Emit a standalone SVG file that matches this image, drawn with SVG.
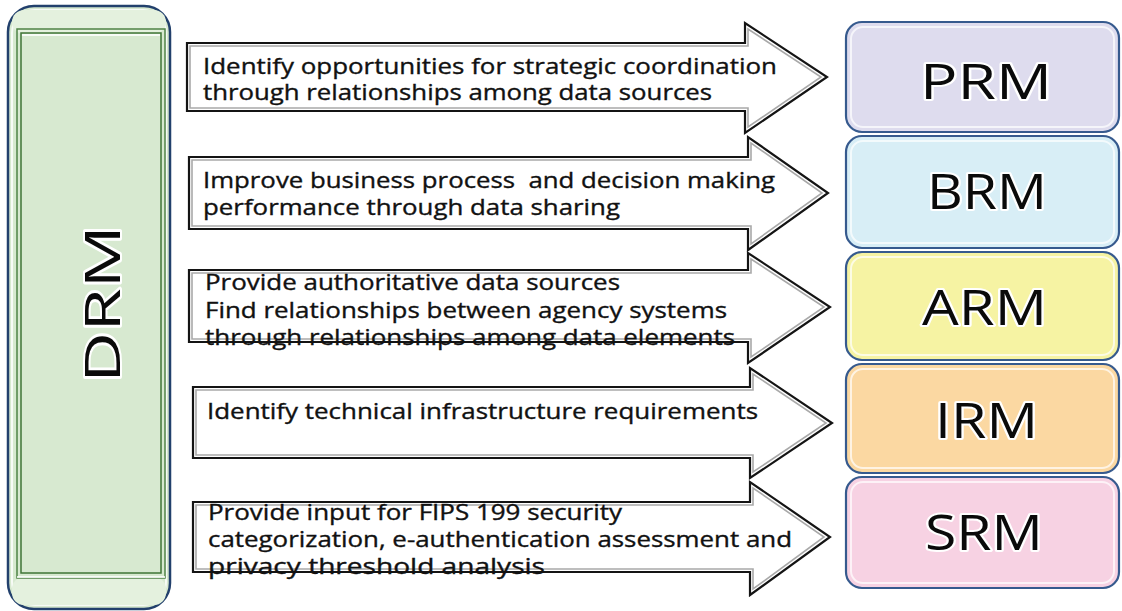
<svg xmlns="http://www.w3.org/2000/svg" width="1122" height="611" viewBox="0 0 1122 611">
<style>
  .arrow { fill: #ffffff; stroke: #141414; stroke-width: 2.2; stroke-linejoin: miter; }
  .arrow-in { fill: none; stroke: #a9a9a9; stroke-width: 1.6; }
  .t { font-family: "Open Sans", "Noto Sans", sans-serif; font-size: 21px; fill: #111111; stroke: #111111; stroke-width: 0.35; }
  .big { font-family: "Open Sans", "Noto Sans", sans-serif; font-size: 49px; fill: #0a0a0a; stroke: #ffffff; stroke-width: 4; paint-order: stroke; stroke-linejoin: round; }
  .box { stroke: #365a8e; stroke-width: 2.2; }
  .bevel { fill: none; stroke: #ffffff; stroke-opacity: 0.7; stroke-width: 2; }
</style>
<rect width="1122" height="611" fill="#ffffff"/>

<g id="node-drm">
  <rect x="8" y="6" width="162" height="603" rx="26" fill="#d7e9d0" stroke="#22406c" stroke-width="2.5"/>
  <rect x="12" y="10" width="154" height="595" rx="23" fill="none" stroke="#ffffff" stroke-opacity="0.8" stroke-width="2"/>
  <rect x="12" y="10" width="154" height="24" rx="12" fill="#e4f1de" stroke="none"/>
  <rect x="12" y="577" width="154" height="28" rx="12" fill="#e4f1de" stroke="none"/>
  <rect x="17" y="29" width="148" height="549" fill="none" stroke="#4f8346" stroke-width="1.5"/>
  <rect x="21" y="33" width="140" height="540" fill="#d7e9d0" stroke="#3f7436" stroke-width="1.5"/>
  <line x1="22" y1="35" x2="160" y2="35" stroke="#ffffff" stroke-width="2" stroke-opacity="0.8"/>
  <line x1="17" y1="577" x2="165" y2="577" stroke="#ffffff" stroke-width="2" stroke-opacity="0.8"/>
  <text class="big" transform="translate(120,383) rotate(-90)" font-size="98" textLength="158" lengthAdjust="spacingAndGlyphs" stroke-width="5">DRM</text>
</g>

<g id="connectors">
  <g id="arrow-prm">
    <polygon class="arrow" points="187,43 745,43 745,23 827,77 745,133 745,111 187,111"/>
    <polygon class="arrow-in" points="190,46 748,46 748,29 821,77 748,127 748,108 190,108"/>
    <text class="t" x="203" y="74" font-size="20" textLength="574" lengthAdjust="spacingAndGlyphs">Identify opportunities for strategic coordination</text>
    <text class="t" x="203" y="100" font-size="20" textLength="509" lengthAdjust="spacingAndGlyphs">through relationships among data sources</text>
  </g>
  <g id="arrow-brm">
    <polygon class="arrow" points="189,157 748,157 748,137 828,193 748,250 748,229 189,229"/>
    <polygon class="arrow-in" points="192,160 751,160 751,143 822,193 751,244 751,226 192,226"/>
    <text class="t" x="203" y="188" textLength="572" lengthAdjust="spacingAndGlyphs" xml:space="preserve">Improve business process  and decision making</text>
    <text class="t" x="203" y="215" textLength="417" lengthAdjust="spacingAndGlyphs">performance through data sharing</text>
  </g>
  <g id="arrow-arm">
    <polygon class="arrow" points="189,270 748,270 748,253 830,307 748,363 748,342 189,342"/>
    <polygon class="arrow-in" points="192,273 751,273 751,259 824,307 751,357 751,339 192,339"/>
    <text class="t" x="205" y="290" textLength="415" lengthAdjust="spacingAndGlyphs">Provide authoritative data sources</text>
    <text class="t" x="205" y="318" textLength="522" lengthAdjust="spacingAndGlyphs">Find relationships between agency systems</text>
    <text class="t" x="205" y="345" textLength="530" lengthAdjust="spacingAndGlyphs">through relationships among data elements</text>
  </g>
  <g id="arrow-irm">
    <polygon class="arrow" points="193,387 750,387 750,368 832,423 750,478 750,458 193,458"/>
    <polygon class="arrow-in" points="196,390 753,390 753,374 826,423 753,472 753,455 196,455"/>
    <text class="t" x="207" y="419" textLength="551" lengthAdjust="spacingAndGlyphs">Identify technical infrastructure requirements</text>
  </g>
  <g id="arrow-srm">
    <polygon class="arrow" points="193,502 750,502 750,482 830,537 750,595 750,572 193,572"/>
    <polygon class="arrow-in" points="196,505 753,505 753,488 824,537 753,589 753,569 196,569"/>
    <text class="t" x="208" y="520" textLength="414" lengthAdjust="spacingAndGlyphs">Provide input for FIPS 199 security</text>
    <text class="t" x="208" y="547" textLength="584" lengthAdjust="spacingAndGlyphs">categorization, e-authentication assessment and</text>
    <text class="t" x="208" y="574" textLength="337" lengthAdjust="spacingAndGlyphs">privacy threshold analysis</text>
  </g>
</g>

<g id="node-prm">
  <rect class="box" x="846" y="22" width="273" height="110" rx="16" fill="#dedcee"/>
  <rect class="bevel" x="851" y="27" width="263" height="100" rx="12"/>
  <text class="big" x="920" y="99" textLength="132" lengthAdjust="spacingAndGlyphs">PRM</text>
</g>
<g id="node-brm">
  <rect class="box" x="846" y="136" width="273" height="112" rx="16" fill="#d8eef6"/>
  <rect class="bevel" x="851" y="141" width="263" height="102" rx="12"/>
  <text class="big" x="927" y="209" textLength="120" lengthAdjust="spacingAndGlyphs">BRM</text>
</g>
<g id="node-arm">
  <rect class="box" x="846" y="252" width="273" height="108" rx="16" fill="#f6f3a3"/>
  <rect class="bevel" x="851" y="257" width="263" height="98" rx="12"/>
  <text class="big" x="922" y="325" textLength="125" lengthAdjust="spacingAndGlyphs">ARM</text>
</g>
<g id="node-irm">
  <rect class="box" x="846" y="364" width="273" height="109" rx="16" fill="#fbd8a2"/>
  <rect class="bevel" x="851" y="369" width="263" height="99" rx="12"/>
  <text class="big" x="935" y="438" textLength="103" lengthAdjust="spacingAndGlyphs">IRM</text>
</g>
<g id="node-srm">
  <rect class="box" x="846" y="477" width="273" height="111" rx="16" fill="#f7d2e3"/>
  <rect class="bevel" x="851" y="482" width="263" height="101" rx="12"/>
  <text class="big" x="925" y="550" textLength="118" lengthAdjust="spacingAndGlyphs">SRM</text>
</g>
</svg>
